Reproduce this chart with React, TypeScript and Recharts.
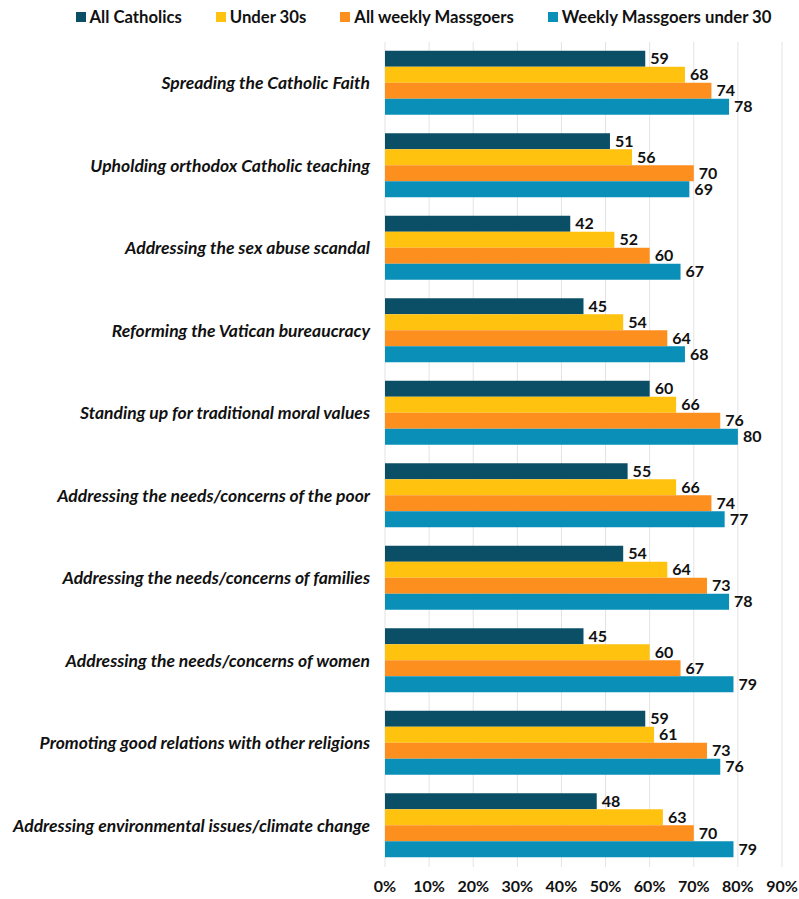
import React from "react";
import { BarChart, Bar, XAxis, YAxis, CartesianGrid, LabelList } from "recharts";

const categories = [
  "Spreading the Catholic Faith",
  "Upholding orthodox Catholic teaching",
  "Addressing the sex abuse scandal",
  "Reforming the Vatican bureaucracy",
  "Standing up for traditional moral values",
  "Addressing the needs/concerns of the poor",
  "Addressing the needs/concerns of families",
  "Addressing the needs/concerns of women",
  "Promoting good relations with other religions",
  "Addressing environmental issues/climate change",
];
const allCatholics = [59, 51, 42, 45, 60, 55, 54, 45, 59, 48];
const under30s = [68, 56, 52, 54, 66, 66, 64, 60, 61, 63];
const allWeekly = [74, 70, 60, 64, 76, 74, 73, 67, 73, 70];
const weeklyUnder30 = [78, 69, 67, 68, 80, 77, 78, 79, 76, 79];
const xTicks = [0, 10, 20, 30, 40, 50, 60, 70, 80, 90];

const series = [
  { key: "allCatholics", name: "All Catholics", color: "#0b4f66" },
  { key: "under30s", name: "Under 30s", color: "#ffc20e" },
  { key: "allWeekly", name: "All weekly Massgoers", color: "#fd8f1f" },
  { key: "weeklyUnder30", name: "Weekly Massgoers under 30", color: "#0a8fb8" },
];

const data = categories.map((c, i) => ({
  name: c,
  allCatholics: allCatholics[i],
  under30s: under30s[i],
  allWeekly: allWeekly[i],
  weeklyUnder30: weeklyUnder30[i],
}));

const FONT = "Lato, 'Open Sans', sans-serif";

const LegendBlock = () => (
  <div
    style={{
      position: "absolute",
      left: 24,
      top: 7,
      width: 799,
      display: "flex",
      justifyContent: "center",
      fontFamily: FONT,
      fontWeight: 700,
      fontSize: 16.7,
      color: "#111",
      zIndex: 2,
    }}
  >
    {series.map((s) => (
      <div key={s.key} style={{ display: "flex", alignItems: "center", margin: "0 17px" }}>
        <span style={{ display: "inline-block", width: 10, height: 10, background: s.color, marginRight: 4 }} />
        <span>{s.name}</span>
      </div>
    ))}
  </div>
);

export default function App() {
  return (
    <div style={{ position: "absolute", left: 0, top: 0, width: 799, height: 899, background: "#fff", overflow: "hidden" }}>
      <LegendBlock />
      <BarChart
        width={799}
        height={899}
        data={data}
        layout="vertical"
        margin={{ top: 42, right: 17, bottom: 0, left: 0 }}
        barCategoryGap="10.6%"
        barGap={0}
      >
        <CartesianGrid horizontal={false} stroke="#e3e3e3" />
        <XAxis
          type="number"
          domain={[0, 90]}
          ticks={xTicks}
          tickFormatter={(v) => `${v}%`}
          axisLine={false}
          tickLine={false}
          height={32}
          tickMargin={8}
          tick={{ fill: "#111", fontSize: 16, fontWeight: 700, fontFamily: FONT }}
          interval={0}
        />
        <YAxis
          type="category"
          dataKey="name"
          width={385}
          axisLine={false}
          tickLine={false}
          tickSize={0}
          tickMargin={15}
          interval={0}
          tick={{ fill: "#111", fontSize: 17.5, fontWeight: 700, fontStyle: "italic", fontFamily: FONT }}
        />
        {series.map((s) => (
          <Bar key={s.key} dataKey={s.key} name={s.name} fill={s.color} isAnimationActive={false}>
            <LabelList
              dataKey={s.key}
              position="right"
              offset={5}
              style={{ fill: "#111", fontSize: 16, fontWeight: 700, fontFamily: FONT }}
            />
          </Bar>
        ))}
      </BarChart>
    </div>
  );
}
